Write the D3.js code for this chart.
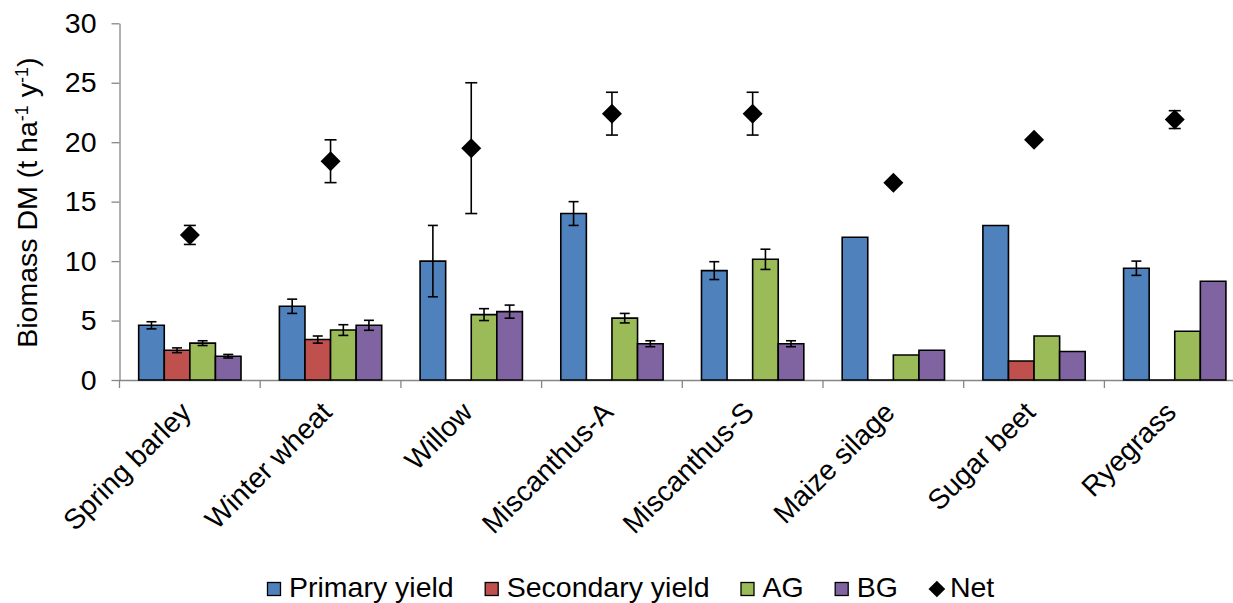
<!DOCTYPE html>
<html>
<head>
<meta charset="utf-8">
<script src="https://cdn.jsdelivr.net/npm/d3@7"></script>
<style>
  body { margin: 0; background: #fff; }
  text { font-family: "Liberation Sans", Arial, sans-serif; fill: #000; }
</style>
</head>
<body>
<svg id="chart" width="1233" height="603"></svg>
<script>
// Crop categories
const categories = ["Spring barley", "Winter wheat", "Willow", "Miscanthus-A",
                    "Miscanthus-S", "Maize silage", "Sugar beet", "Ryegrass"];

// Biomass dry matter (t ha-1 y-1) and error half-widths per series
const primary      = [4.6, 6.2, 10.0, 14.0, 9.2, 12.0, 13.0, 9.4];
const primaryErr   = [0.3, 0.6, 3.0, 1.0, 0.75, 0, 0, 0.6];
const secondary    = [2.5, 3.4, 0, 0, 0, 0, 1.6, 0];
const secondaryErr = [0.2, 0.3, 0, 0, 0, 0, 0, 0];
const ag           = [3.1, 4.2, 5.5, 5.2, 10.15, 2.1, 3.7, 4.1];
const agErr        = [0.2, 0.45, 0.5, 0.4, 0.85, 0, 0, 0];
const bg           = [2.0, 4.6, 5.75, 3.05, 3.05, 2.5, 2.4, 8.3];
const bgErr        = [0.15, 0.42, 0.55, 0.25, 0.25, 0, 0, 0];
const net          = [12.2, 18.4, 19.5, 22.4, 22.4, 16.6, 20.2, 21.9];
const netErr       = [0.8, 1.8, 5.5, 1.8, 1.8, 0, 0, 0.75];

const seriesNames  = ["Primary yield", "Secondary yield", "AG", "BG"];
const seriesColors = ["#4F81BD", "#C0504D", "#9BBB59", "#8064A2"];
const yTicks = [0, 5, 10, 15, 20, 25, 30];

const seriesValues = [primary, secondary, ag, bg];
const seriesErrors = [primaryErr, secondaryErr, agErr, bgErr];

const svg = d3.select("#chart");
const axisColor = "#868686";

const plotLeft = 119.5, plotTop = 23.3, plotBottom = 380, step = 140.7;
const x0 = d3.scaleBand().domain(categories)
  .range([plotLeft, plotLeft + step * categories.length]).padding(0);
const x1 = d3.scaleBand().domain(seriesNames)
  .range([0, x0.bandwidth()]).paddingInner(0).paddingOuter(0.75);
const y = d3.scaleLinear().domain([0, 30]).range([plotBottom, plotTop]);

// Y axis
const yAxis = svg.append("g")
  .attr("transform", `translate(${plotLeft},0)`)
  .call(d3.axisLeft(y).tickValues(yTicks).tickSize(8).tickSizeOuter(0).tickPadding(15));
yAxis.select(".domain").attr("stroke", axisColor).attr("stroke-width", 1.3);
yAxis.selectAll(".tick line").attr("stroke", axisColor).attr("stroke-width", 1.3);
yAxis.selectAll(".tick text")
  .attr("font-family", '"Liberation Sans", Arial, sans-serif')
  .attr("font-size", 28.5).attr("fill", "#000");

// X axis line and category boundary ticks
const xAxis = svg.append("g")
  .attr("transform", `translate(0,${plotBottom})`)
  .call(d3.axisBottom(x0).tickSize(0).tickFormat(""));
xAxis.select(".domain").attr("stroke", axisColor).attr("stroke-width", 1.3);
const boundaries = categories.map(c => x0(c)).concat([x0(categories[categories.length - 1]) + x0.bandwidth()]);
xAxis.selectAll("line.bound").data(boundaries).join("line")
  .attr("class", "bound")
  .attr("x1", d => d).attr("x2", d => d)
  .attr("y1", 0).attr("y2", 8)
  .attr("stroke", axisColor).attr("stroke-width", 1.3);

// Y axis title
const yTitle = svg.append("text")
  .attr("transform", `translate(37,${(plotTop + plotBottom) / 2 + 1}) rotate(-90)`)
  .attr("text-anchor", "middle")
  .attr("font-size", 28.5);
yTitle.append("tspan").text("Biomass DM (t ha");
yTitle.append("tspan").attr("font-size", 18).attr("dy", -9).text("-1");
yTitle.append("tspan").attr("dy", 9).text(" y");
yTitle.append("tspan").attr("font-size", 18).attr("dy", -9).text("-1");
yTitle.append("tspan").attr("dy", 9).text(")");

// Bars (paths so that zero-valued bars still show their outline)
const barData = [];
seriesNames.forEach((s, i) => {
  categories.forEach((c, j) => {
    barData.push({ cat: c, series: s, color: seriesColors[i],
                   value: seriesValues[i][j], err: seriesErrors[i][j] });
  });
});

const bars = svg.append("g");
bars.selectAll("path").data(barData).join("path")
  .attr("d", d => {
    const bx = x0(d.cat) + x1(d.series), w = x1.bandwidth();
    return `M${bx},${y(0)}V${y(d.value)}H${bx + w}V${y(0)}Z`;
  })
  .attr("fill", d => d.color)
  .attr("stroke", "#000")
  .attr("stroke-width", 1.6);

// Bar error bars
const errG = svg.append("g").attr("stroke", "#000").attr("stroke-width", 1.6);
barData.filter(d => d.err > 0).forEach(d => {
  const cx = x0(d.cat) + x1(d.series) + x1.bandwidth() / 2;
  const y1 = y(d.value + d.err), y2 = y(d.value - d.err);
  errG.append("line").attr("x1", cx).attr("x2", cx).attr("y1", y1).attr("y2", y2);
  errG.append("line").attr("x1", cx - 5).attr("x2", cx + 5).attr("y1", y1).attr("y2", y1);
  errG.append("line").attr("x1", cx - 5).attr("x2", cx + 5).attr("y1", y2).attr("y2", y2);
});

// Net markers with error bars
const netData = categories.map((c, j) => ({ cat: c, value: net[j], err: netErr[j] }));
const netG = svg.append("g");
netData.filter(d => d.err > 0).forEach(d => {
  const cx = x0(d.cat) + x0.bandwidth() / 2;
  const y1 = y(d.value + d.err), y2 = y(d.value - d.err);
  const g = netG.append("g").attr("stroke", "#000").attr("stroke-width", 1.6);
  g.append("line").attr("x1", cx).attr("x2", cx).attr("y1", y1).attr("y2", y2);
  g.append("line").attr("x1", cx - 6).attr("x2", cx + 6).attr("y1", y1).attr("y2", y1);
  g.append("line").attr("x1", cx - 6).attr("x2", cx + 6).attr("y1", y2).attr("y2", y2);
});
netG.selectAll("path.net").data(netData).join("path")
  .attr("class", "net")
  .attr("d", d3.symbol(d3.symbolSquare, 200))
  .attr("transform", d => `translate(${x0(d.cat) + x0.bandwidth() / 2},${y(d.value)}) rotate(45)`)
  .attr("fill", "#000");

// Category labels, rotated
svg.append("g").selectAll("text").data(categories).join("text")
  .attr("transform", d => `translate(${x0(d) + x0.bandwidth() / 2 + 3},${414}) rotate(-45)`)
  .attr("text-anchor", "end")
  .attr("font-size", 28.3)
  .text(d => d);

// Legend
const legendItems = seriesNames.map((s, i) => ({ name: s, color: seriesColors[i], type: "bar" }))
  .concat([{ name: "Net", color: "#000", type: "net" }]);
const legend = svg.append("g");
let lx = 267;
legendItems.forEach(item => {
  const g = legend.append("g").attr("transform", `translate(${lx},0)`);
  if (item.type === "bar") {
    g.append("rect").attr("x", 0.5).attr("y", 582.5).attr("width", 13).attr("height", 13)
      .attr("fill", item.color).attr("stroke", "#000").attr("stroke-width", 1.3);
  } else {
    g.append("path").attr("d", d3.symbol(d3.symbolSquare, 140))
      .attr("transform", `translate(8,589) rotate(45)`).attr("fill", "#000");
  }
  const tx = item.type === "bar" ? 22 : 21;
  const t = g.append("text").attr("x", tx).attr("y", 597)
    .attr("font-size", 28.5).text(item.name);
  const w = t.node().getComputedTextLength();
  lx += tx + w + 31;
});
</script>
</body>
</html>
